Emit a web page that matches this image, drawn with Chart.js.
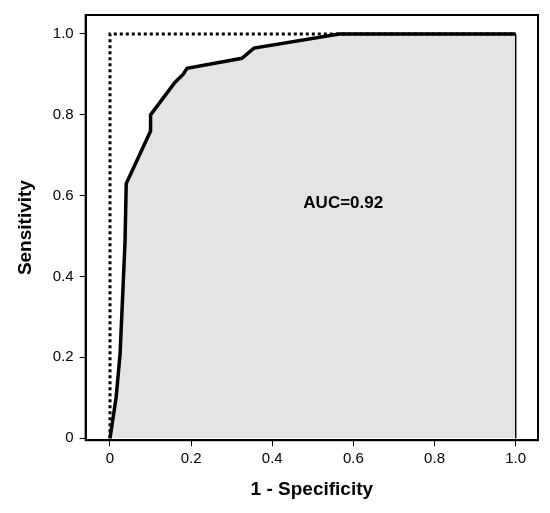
<!DOCTYPE html><html><head><script src="https://cdn.jsdelivr.net/npm/chart.js"></script>
<style>body{margin:0;background:#fff}#w{width:550px;height:513px}</style></head><body><div id="w"><canvas id="c"></canvas></div>
<script>
const rocX=[0,0.015,0.025,0.037,0.04,0.1,0.1,0.13,0.16,0.18,0.19,0.325,0.355,0.565,1];
const rocY=[0,0.1,0.21,0.485,0.63,0.76,0.8,0.84,0.88,0.9,0.915,0.94,0.965,1,1];
const refX=[0,0,1];const refY=[0,1,1];
const xTicks=[0,0.2,0.4,0.6,0.8,1.0];const yTicks=[0,0.2,0.4,0.6,0.8,1.0];
const aucLabel='AUC=0.92';
const F='"Liberation Sans", Arial, sans-serif';
const fillPts=rocX.map((x,i)=>({x,y:rocY[i]}));fillPts.push({x:1,y:0});
new Chart(document.getElementById('c'),{type:'scatter',data:{datasets:[
{data:fillPts,showLine:true,fill:'origin',backgroundColor:'#e4e4e4',borderColor:'#000',borderWidth:1,pointRadius:0,order:3},
{data:refX.map((x,i)=>({x,y:refY[i]})),showLine:true,borderColor:'#000',borderWidth:3,borderDash:[3,3],pointRadius:0,order:2},
{data:rocX.map((x,i)=>({x,y:rocY[i]})),showLine:true,borderColor:'#000',borderWidth:3.5,pointRadius:0,order:1}
]},options:{responsive:true,maintainAspectRatio:false,animation:false,
layout:{padding:{left:10,right:12,top:13,bottom:8}},
plugins:{legend:{display:false},tooltip:{enabled:false}},
scales:{x:{type:'linear',min:-0.06,max:1.055,afterBuildTicks:a=>{a.ticks=xTicks.map(v=>({value:v}))},
ticks:{color:'#000',font:{family:F,size:15},padding:4,callback:v=>v===0?'0':v.toFixed(1)},
grid:{display:true,drawOnChartArea:false,drawTicks:true,tickLength:6,tickColor:'#000'},border:{color:'#000',width:2},
title:{display:true,text:'1 - Specificity',color:'#000',font:{family:F,size:19,weight:'bold'},padding:{top:6}}},
y:{type:'linear',min:-0.005,max:1.047,afterBuildTicks:a=>{a.ticks=yTicks.map(v=>({value:v}))},
ticks:{color:'#000',font:{family:F,size:15},padding:6,callback:v=>v===0?'0':v.toFixed(1)},
grid:{display:true,drawOnChartArea:false,tickLength:6,tickColor:'#000'},border:{color:'#000',width:2},
title:{display:true,text:'Sensitivity',color:'#000',font:{family:F,size:19,weight:'bold'},padding:{bottom:10}}}}},
plugins:[{id:'fr',afterDraw(ch){const a=ch.chartArea,c=ch.ctx;c.save();c.strokeStyle='#000';c.lineWidth=2;c.strokeRect(a.left,a.top,a.right-a.left,a.bottom-a.top);
c.fillStyle='#000';c.font='bold 17px '+F;c.textAlign='center';c.textBaseline='middle';
c.fillText(aucLabel,ch.scales.x.getPixelForValue(0.575),ch.scales.y.getPixelForValue(0.58));c.restore();}}]});
</script></body></html>
